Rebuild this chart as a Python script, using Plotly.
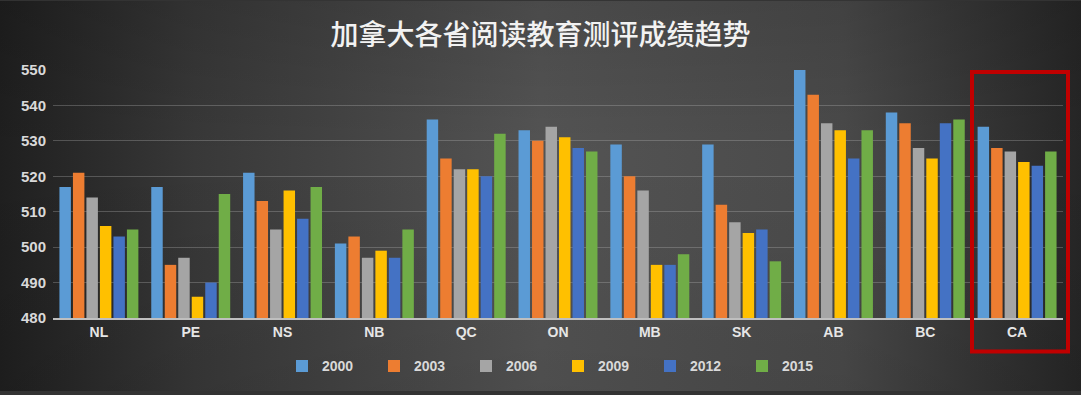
import base64
import plotly.graph_objects as go

provinces = ["NL", "PE", "NS", "NB", "QC", "ON", "MB", "SK", "AB", "BC", "CA"]
years = ["2000", "2003", "2006", "2009", "2012", "2015"]
s2000 = [517, 517, 521, 501, 536, 533, 529, 529, 550, 538, 534]
s2003 = [521, 495, 513, 503, 525, 530, 520, 512, 543, 535, 528]
s2006 = [514, 497, 505, 497, 522, 534, 516, 507, 535, 528, 527]
s2009 = [506, 486, 516, 499, 522, 531, 495, 504, 533, 525, 524]
s2012 = [503, 490, 508, 497, 520, 528, 495, 505, 525, 535, 523]
s2015 = [505, 515, 517, 505, 532, 527, 498, 496, 533, 536, 527]
series = [s2000, s2003, s2006, s2009, s2012, s2015]
colors = ["#5B9BD5", "#ED7D31", "#A5A5A5", "#FFC000", "#4472C4", "#70AD47"]
y_ticks = [480, 490, 500, 510, 520, 530, 540, 550]

W, H = 1081, 395
ML, MR, MT, MB = 53, 18, 70, 74
PW, PH = W - ML - MR, H - MT - MB

fig = go.Figure()
for yr, vals, c in zip(years, series, colors):
    fig.add_trace(go.Bar(x=provinces, y=[v - 480 for v in vals], base=480, name=yr,
                         marker=dict(color=c, line=dict(width=0))))

svg = (
    "<svg xmlns='http://www.w3.org/2000/svg' width='1081' height='395' viewBox='0 0 1081 395' "
    "preserveAspectRatio='none'><defs>"
    "<linearGradient id='g' x1='0' y1='0' x2='1' y2='0'>"
    "<stop offset='0' stop-color='#1f1f1f'/>"
    "<stop offset='0.18' stop-color='#383838'/>"
    "<stop offset='0.5' stop-color='#545454'/>"
    "<stop offset='0.78' stop-color='#4a4a4a'/>"
    "<stop offset='1' stop-color='#262626'/>"
    "</linearGradient>"
    "<linearGradient id='v' x1='0' y1='0' x2='0' y2='1'>"
    "<stop offset='0' stop-color='#000' stop-opacity='0.12'/>"
    "<stop offset='0.4' stop-color='#000' stop-opacity='0'/>"
    "<stop offset='1' stop-color='#000' stop-opacity='0.08'/>"
    "</linearGradient></defs>"
    "<rect width='1081' height='395' fill='url(#g)'/>"
    "<rect width='1081' height='395' fill='url(#v)'/></svg>"
)
src = "data:image/svg+xml;base64," + base64.b64encode(svg.encode()).decode()

fig.add_layout_image(dict(source=src, xref="paper", yref="paper",
                          x=-ML / PW, y=1 + MT / PH, sizex=W / PW, sizey=H / PH,
                          xanchor="left", yanchor="top", sizing="stretch", layer="below"))

fig.add_shape(type="rect", xref="paper", yref="paper",
              x0=(972 - ML) / PW, x1=(1068 - ML) / PW,
              y0=-(355 - (MT + PH)) / PH, y1=(MT + PH - 72) / PH,
              line=dict(color="#C00000", width=4), fillcolor="rgba(0,0,0,0)")

fig.update_layout(
    width=W, height=H,
    margin=dict(l=ML, r=MR, t=MT, b=MB),
    paper_bgcolor="#333333", plot_bgcolor="rgba(0,0,0,0)",
    barmode="group", bargap=0.118, bargroupgap=0.15,
    title=dict(text="加拿大各省阅读教育测评成绩趋势", x=0.5, xanchor="center",
               y=1 - 35 / H, yanchor="middle",
               font=dict(family="Noto Sans CJK SC", size=28, color="#f2f2f2", weight=500)),
    font=dict(family="Liberation Sans", color="#d9d9d9"),
    xaxis=dict(showgrid=False, showline=True, linecolor="#bfbfbf", linewidth=2,
               tickfont=dict(size=14, color="#e6e6e6", family="Liberation Sans", weight="bold"),
               ticks=""),
    yaxis=dict(range=[480, 550], tickvals=y_ticks, showgrid=True, gridcolor="rgba(190,190,190,0.3)",
               gridwidth=1, zeroline=False, showline=False, ticklabelstandoff=6,
               tickfont=dict(size=15, color="#d9d9d9", family="Liberation Sans", weight="bold")),
    legend=dict(orientation="h", x=0.5, xanchor="center", y=-49 / PH, yanchor="middle",
                bgcolor="rgba(0,0,0,0)",
                font=dict(size=14, color="#d9d9d9", family="Liberation Sans", weight="bold"),
                itemwidth=30, entrywidth=47),
)
fig.write_html("out.html", config={"displayModeBar": False},
               post_script="document.body.style.margin='0';document.body.style.overflow='hidden';")
